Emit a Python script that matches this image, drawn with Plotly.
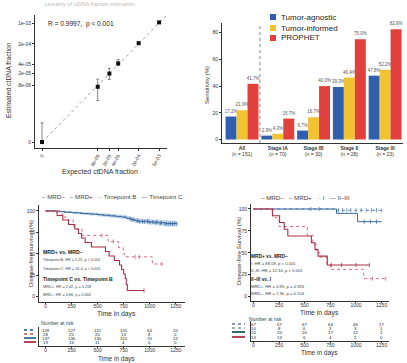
import numpy as np
import plotly.graph_objects as go

W, H = 407, 363
FONT = "Liberation Sans, Arial, sans-serif"
def PX(x): return x / W
def PY(y): return 1 - y / H

# ---------------- Panel A : linearity ----------------
expected_frac = [0, 8e-6, 2e-5, 4e-5, 2e-4, 1e-3]
estimated_frac = [0, 7.2e-6, 2.0e-5, 4.4e-5, 2.1e-4, 1.05e-3]
estimated_low = [0, 2.5e-6, 1.26e-5, 3.7e-5, 1.95e-4, 1.0e-3]
estimated_high = [4.4e-7, 1.3e-5, 2.95e-5, 5.9e-5, 2.25e-4, 1.1e-3]
frac_ticks = [0, 8e-6, 2e-5, 4e-5, 2e-4, 1e-3]
frac_tick_text = ["0", "8e-06", "2e-05", "4e-05", "2e-04", "1e-03"]
ZERO_POS = -7.0
def ptr(v):
    return float(np.log10(v)) if v > 0 else ZERO_POS

# ---------------- Panel B : sensitivity ----------------
groups = ["All", "Stage IA", "Stage IB", "Stage II", "Stage III"]
group_n = [151, 70, 30, 28, 23]
tumor_agnostic = [17.2, 2.9, 6.7, 39.3, 47.8]
tumor_informed = [21.9, 4.3, 16.7, 46.4, 52.2]
prophet = [41.7, 15.7, 40.0, 75.0, 82.6]
bar_colors = ["#2f5fae", "#f1c232", "#e2403c"]
bar_names = ["Tumor-agnostic", "Tumor-informed", "PROPHET"]

# ---------------- Panel C : KM by timepoint ----------------
days_ticks = [0, 250, 500, 750, 1000, 1250]
c_negC_t = [0, 100, 180, 260, 340, 420, 500, 560, 620, 680, 730, 780, 820, 860, 900, 1000, 1080, 1150]
c_negC_s = [100, 99.3, 98.5, 97.8, 97.1, 96.4, 95.6, 95.0, 94.3, 93.6, 92.9, 91.5, 90.1, 88.7, 87.9, 87.1, 86.3, 85.4]
c_negC_lo = [100, 98.5, 97.4, 96.5, 95.6, 94.7, 93.7, 93.0, 92.1, 91.3, 90.5, 88.9, 87.4, 85.9, 85.0, 84.1, 83.1, 82.0]
c_negC_hi = [100, 99.9, 99.6, 99.1, 98.6, 98.1, 97.5, 97.0, 96.5, 95.9, 95.3, 94.1, 92.8, 91.5, 90.8, 90.1, 89.5, 88.8]
c_negC_end = 1260
c_negC_cens = [820, 880, 930, 980, 1030, 1070, 1110, 1160, 1200, 1240]
c_negB_t = [0, 140, 230, 300, 380, 450, 530, 600, 660, 720, 770, 810, 850, 890, 960, 1040, 1120]
c_negB_s = [100, 99.2, 98.4, 97.6, 96.8, 96.0, 95.2, 94.4, 93.6, 92.8, 91.3, 89.8, 88.3, 87.5, 86.6, 85.8, 84.9]
c_negB_end = 1270
c_negB_cens = [840, 900, 950, 1000, 1060, 1100, 1140, 1180, 1220, 1260]
c_posC_t = [0, 110, 165, 220, 280, 315, 345, 380, 440, 575, 610, 660, 710, 730, 750, 765, 775, 785]
c_posC_s = [100, 94.7, 89.5, 84.2, 78.9, 73.7, 68.4, 63.2, 57.9, 52.6, 47.4, 42.1, 36.8, 31.6, 26.3, 21.1, 14.0, 7.0]
c_posC_end = 945
c_posB_t = [0, 140, 175, 205, 265, 300, 350, 600, 700, 745, 760, 1025]
c_posB_s = [100, 96.4, 92.9, 89.3, 82.1, 78.6, 71.4, 64.3, 57.1, 50.0, 46.4, 38.0]
c_posB_end = 1140
c_posB_cens = [540, 650, 860, 900, 1110]
risk_C_negB = [128, 127, 121, 101, 64, 20]
risk_C_posB = [28, 25, 20, 13, 8, 0]
risk_C_negC = [137, 136, 130, 110, 70, 22]
risk_C_posC = [19, 16, 11, 4, 0, 0]

# ---------------- Panel D : KM by stage ----------------
d_negI_t = [0, 790]
d_negI_s = [100, 98.5]
d_negI_end = 1265
d_negI_cens = [560, 640, 830, 870, 910, 950, 1000, 1050, 1100, 1150, 1200, 1250]
d_negII_t = [0, 810, 1015]
d_negII_s = [100, 95.0, 85.5]
d_negII_end = 1250
d_negII_cens = [1080, 1140, 1200]
d_posII_t = [0, 185, 255, 300, 335, 565, 600, 630, 720]
d_posII_s = [100, 92.3, 84.6, 76.9, 69.2, 61.5, 53.8, 46.2, 36.0]
d_posII_end = 1130
d_posII_cens = [760, 860, 1000, 1130]
d_posI_t = [0, 190, 250, 525, 580, 610, 650, 715, 750, 1075]
d_posI_s = [100, 90, 80, 70, 60, 50, 45, 38, 31, 20.5]
d_posI_end = 1290
d_posI_cens = [1160, 1290]
risk_D_negI = [67, 67, 67, 64, 46, 17]
risk_D_posI = [10, 8, 6, 3, 3, 1]
risk_D_negII = [20, 20, 20, 17, 12, 2]
risk_D_posII = [13, 13, 6, 4, 2, 0]

BLUE = "#3d6a9e"
BLUE2 = "#5b86b8"
RED = "#ad3049"
RED2 = "#d9697f"

fig = go.Figure()

# ---- A traces
fig.add_trace(go.Scatter(x=[ZERO_POS, -2.73], y=[ZERO_POS, -2.73], mode="lines",
                         line=dict(color="#888", width=0.8, dash="dot"), xaxis="x", yaxis="y"))
ex = [ptr(v) for v in expected_frac]
ey = [ptr(v) for v in estimated_frac]
eh = [ptr(h) - ptr(e) for h, e in zip(estimated_high, estimated_frac)]
el = [ptr(e) - ptr(l) for l, e in zip(estimated_low, estimated_frac)]
fig.add_trace(go.Scatter(x=ex, y=ey, mode="markers",
                         marker=dict(symbol="square", size=4, color="#111"),
                         error_y=dict(type="data", symmetric=False, array=eh, arrayminus=el,
                                      color="#555", thickness=0.7, width=1.5),
                         xaxis="x", yaxis="y"))

# ---- B traces
for vals, col, nm in zip([tumor_agnostic, tumor_informed, prophet], bar_colors, bar_names):
    fig.add_trace(go.Bar(x=list(range(len(groups))), y=vals, marker=dict(color=col, line=dict(width=0)),
                         name=nm, text=[f"{v:.1f}%" for v in vals], textposition="outside",
                         textfont=dict(size=4.5, color="#555", family=FONT), constraintext="none",
                         cliponaxis=False, xaxis="x2", yaxis="y2"))

# ---- KM helpers
def step_val(t, s, c):
    i = int(np.searchsorted(np.array(t), c, side="right")) - 1
    return s[max(i, 0)]

def km(t, s, end, color, dash, width, xa, ya, cens=None):
    fig.add_trace(go.Scatter(x=list(t) + [end], y=list(s) + [s[-1]], mode="lines",
                             line=dict(shape="hv", color=color, dash=dash, width=width),
                             xaxis=xa, yaxis=ya))
    if cens:
        fig.add_trace(go.Scatter(x=cens, y=[step_val(t, s, c) for c in cens], mode="markers",
                                 marker=dict(symbol="line-ns-open", size=3, color=color,
                                             line=dict(width=0.8, color=color)),
                                 xaxis=xa, yaxis=ya))

# C: CI band
fig.add_trace(go.Scatter(x=c_negC_t + [c_negC_end], y=c_negC_hi + [c_negC_hi[-1]], mode="lines",
                         line=dict(shape="hv", width=0, color="rgba(0,0,0,0)"), xaxis="x3", yaxis="y3"))
fig.add_trace(go.Scatter(x=c_negC_t + [c_negC_end], y=c_negC_lo + [c_negC_lo[-1]], mode="lines",
                         line=dict(shape="hv", width=0, color="rgba(0,0,0,0)"), fill="tonexty",
                         fillcolor="rgba(120,165,215,0.45)", xaxis="x3", yaxis="y3"))
km(c_negB_t, c_negB_s, c_negB_end, BLUE2, "dot", 1.0, "x3", "y3", c_negB_cens)
km(c_negC_t, c_negC_s, c_negC_end, BLUE, "solid", 1.0, "x3", "y3", c_negC_cens)
km(c_posB_t, c_posB_s, c_posB_end, RED2, "dot", 1.0, "x3", "y3", c_posB_cens)
km(c_posC_t, c_posC_s, c_posC_end, RED, "solid", 1.1, "x3", "y3", [945])
fig.add_trace(go.Scatter(x=[0], y=[0], mode="markers", marker=dict(opacity=0), xaxis="x4", yaxis="y4"))

# D
km(d_negI_t, d_negI_s, d_negI_end, BLUE2, "dot", 1.0, "x5", "y5", d_negI_cens)
km(d_negII_t, d_negII_s, d_negII_end, BLUE, "solid", 1.0, "x5", "y5", d_negII_cens)
km(d_posI_t, d_posI_s, d_posI_end, RED2, "dot", 1.0, "x5", "y5", d_posI_cens)
km(d_posII_t, d_posII_s, d_posII_end, RED, "solid", 1.1, "x5", "y5", d_posII_cens)
fig.add_trace(go.Scatter(x=[0], y=[0], mode="markers", marker=dict(opacity=0), xaxis="x6", yaxis="y6"))

AX = dict(showgrid=False, zeroline=False, showline=True, linecolor="#333", linewidth=0.8,
          ticks="outside", ticklen=2, tickwidth=0.7, tickcolor="#333",
          tickfont=dict(size=5, color="#333", family=FONT))
KMX = dict(ticklen=1.5, ticklabelstandoff=-2)

def dom_x(a, b): return [PX(a), PX(b)]
def dom_y(top, bottom): return [PY(bottom), PY(top)]

layout = dict(
    width=W, height=H, margin=dict(l=0, r=0, t=0, b=0), showlegend=False,
    paper_bgcolor="white", plot_bgcolor="white", font=dict(family=FONT, color="#333"),
    barmode="group", bargap=0.08, bargroupgap=0,
    xaxis=dict(AX, domain=dom_x(35, 167), range=[-7.24, -2.73], anchor="y",
               tickvals=[ptr(v) for v in frac_ticks], ticktext=frac_tick_text, tickangle=-60),
    yaxis=dict(AX, domain=dom_y(15, 148), range=[-7.2, -2.73], anchor="x",
               tickvals=[ptr(v) for v in frac_ticks], ticktext=frac_tick_text),
    xaxis2=dict(AX, domain=dom_x(222, 403), range=[-0.56, 4.5], anchor="y2", ticks="",
                tickvals=list(range(len(groups))),
                ticktext=[f"<b>{g}</b><br>(n = {n})" for g, n in zip(groups, group_n)]),
    yaxis2=dict(AX, domain=dom_y(23, 143), range=[-2.6, 87.2], anchor="x2",
                tickvals=[0, 20, 40, 60, 80]),
    xaxis3=dict(AX, **KMX, domain=dom_x(39, 185), range=[-64, 1339], anchor="y3", tickvals=days_ticks),
    yaxis3=dict(AX, domain=dom_y(205, 302), range=[-6.4, 107], anchor="x3", tickvals=[0, 25, 50, 75, 100]),
    xaxis4=dict(AX, **KMX, domain=dom_x(39, 185), range=[-64, 1339], anchor="y4", tickvals=days_ticks),
    yaxis4=dict(AX, domain=dom_y(327, 346), range=[0, 1], anchor="x4", ticks="", showticklabels=False),
    xaxis5=dict(AX, **KMX, domain=dom_x(251, 389), range=[-24, 1322], anchor="y5", tickvals=days_ticks),
    yaxis5=dict(AX, domain=dom_y(204, 301), range=[-5.1, 105.7], anchor="x5", tickvals=[0, 25, 50, 75, 100]),
    xaxis6=dict(AX, **KMX, domain=dom_x(251, 389), range=[-24, 1322], anchor="y6", tickvals=days_ticks),
    yaxis6=dict(AX, domain=dom_y(321, 341), range=[0, 1], anchor="x6", ticks="", showticklabels=False),
)
fig.update_layout(**layout)

ann = []
def txt(x, y, s, size, color="#333", xanchor="center", angle=0, xref="paper", bold=False):
    ann.append(dict(x=x if xref != "paper" else PX(x), y=PY(y), xref=xref, yref="paper",
                    text=(f"<b>{s}</b>" if bold else s), showarrow=False, xanchor=xanchor, yanchor="middle",
                    textangle=angle, font=dict(size=size, color=color, family=FONT)))

# A texts
txt(90, 4, "Linearity of ctDNA fraction estimation", 5.5, "#bbb")
txt(46, 24, "R = 0.9997,  p < 0.001", 6.6, "#222", "left")
txt(8, 80, "Estimated ctDNA fraction", 6.8, "#333", angle=-90)
txt(100, 172, "Expected ctDNA fraction", 7, "#333")

# B texts
txt(207, 85, "Sensitivity (%)", 6, "#333", angle=-90)
shapes = []
for i, (nm, col) in enumerate(zip(bar_names, bar_colors)):
    yy = [17, 28, 38][i]
    shapes.append(dict(type="rect", xref="paper", yref="paper", x0=PX(270), x1=PX(276),
                       y0=PY(yy + 3), y1=PY(yy - 3), fillcolor=col, line=dict(width=0)))
    txt(279, yy, nm, 8, "#222", "left")
shapes.append(dict(type="line", xref="x2", yref="y2", x0=0.5, x1=0.5, y0=-2.6, y1=87.2,
                   line=dict(color="#777", width=0.9, dash="dot")))

# C texts
txt(112, 196, "– MRD–   – MRD+   ·· Timepoint B   — Timepoint C", 6.2, "#444")
txt(31, 254, "Disease-free survival (%)", 6, "#333", angle=-90)
txt(116, 314, "Time in days", 6.8, "#333")
txt(41, 252, "MRD+ vs. MRD–", 5.2, "#222", "left", bold=True)
txt(41, 260, "Timepoint B: HR = 5.21, p < 0.001", 3.8, "#444", "left")
txt(41, 269, "Timepoint C: HR = 16.4, p < 0.001", 3.8, "#444", "left")
txt(41, 279, "Timepoint C vs. Timepoint B", 5.2, "#222", "left", bold=True)
txt(41, 287, "MRD+: HR = 2.42, p = 0.218", 3.8, "#444", "left")
txt(41, 295, "MRD–: HR = 0.86, p = 0.662", 3.8, "#444", "left")
txt(39, 323, "Number at risk", 5, "#444", "left")
txt(116, 359, "Time in days", 6.5, "#333")
rows_C = [risk_C_negB, risk_C_posB, risk_C_negC, risk_C_posC]
rows_y_C = [330, 334, 338, 342]
for row, yy in zip(rows_C, rows_y_C):
    for d, v in zip(days_ticks, row):
        txt(d, yy, str(v), 4.3, "#222", xref="x4")
sym_C = [("#2b4a7a", "dot", 1.4), ("#c0504d", "dot", 1.4), (BLUE, "solid", 1.8), (RED, "solid", 1.8)]
for (col, dash, wd), yy in zip(sym_C, rows_y_C):
    shapes.append(dict(type="line", xref="paper", yref="paper", x0=PX(24), x1=PX(36), y0=PY(yy), y1=PY(yy),
                       line=dict(color=col, dash=dash, width=wd)))

# D texts
txt(305, 197, "– MRD–   – MRD+   ·· I   — II–III", 6.2, "#444")
txt(239, 251, "Disease-free Survival (%)", 6, "#333", angle=-90)
txt(319, 313, "Time in days", 6.8, "#333")
txt(249, 256, "MRD+ vs. MRD–", 4.8, "#222", "left", bold=True)
txt(249, 263, "I: HR = 88.09, p < 0.001", 4.2, "#444", "left")
txt(249, 270, "II–III: HR = 12.34, p < 0.001", 4.2, "#444", "left")
txt(249, 279, "II–III vs. I", 4.8, "#222", "left", bold=True)
txt(249, 286, "MRD+: HR = 0.95, p = 0.926", 4.2, "#444", "left")
txt(249, 293, "MRD–: HR = 7.36, p = 0.103", 4.2, "#444", "left")
txt(247, 319, "Number at risk", 5, "#444", "left")
txt(319, 353, "Time in days", 6.5, "#333")
rows_D = [risk_D_negI, risk_D_posI, risk_D_negII, risk_D_posII]
rows_y_D = [324, 328, 332, 337]
for row, yy in zip(rows_D, rows_y_D):
    for d, v in zip(days_ticks, row):
        txt(d, yy, str(v), 4.3, "#222", xref="x6")
sym_D = [("#667799", "dot", 1.4), ("#8899aa", "dot", 1.4), ("#1f5a55", "solid", 1.8), (RED, "solid", 1.8)]
for (col, dash, wd), yy in zip(sym_D, rows_y_D):
    shapes.append(dict(type="line", xref="paper", yref="paper", x0=PX(232), x1=PX(245), y0=PY(yy), y1=PY(yy),
                       line=dict(color=col, dash=dash, width=wd)))

fig.update_layout(annotations=ann, shapes=shapes)
fig.write_html("out.html", config={"displayModeBar": False},
               post_script="document.body.style.margin='0';")
